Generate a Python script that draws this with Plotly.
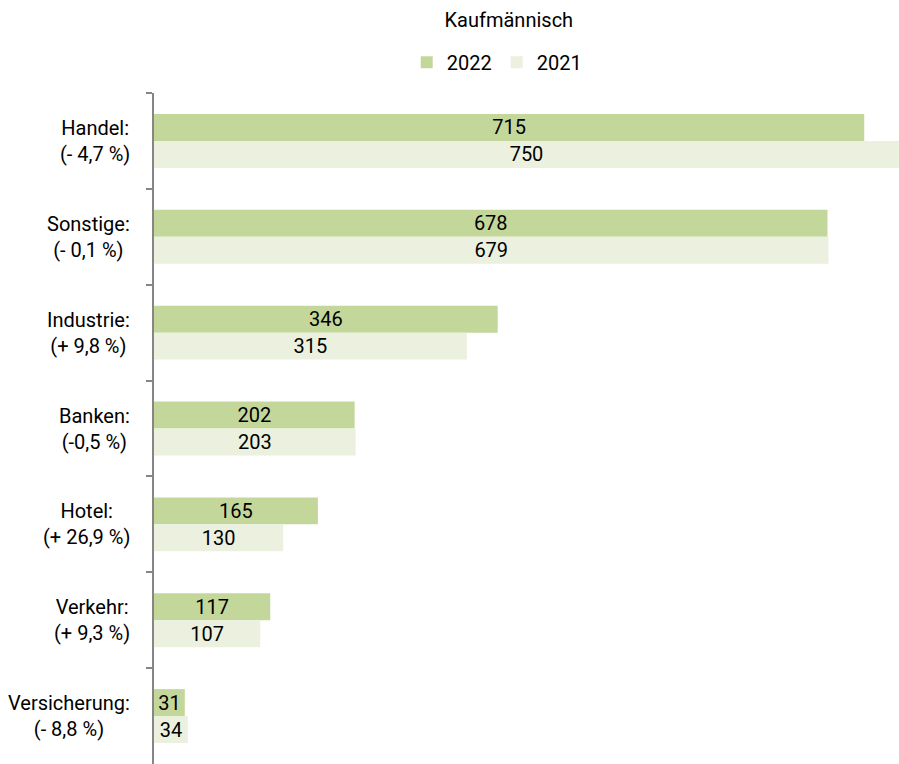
import plotly.graph_objects as go

categories = ["Handel", "Sonstige", "Industrie", "Banken", "Hotel", "Verkehr", "Versicherung"]
changes = ["(- 4,7 %)", "(- 0,1 %)", "(+ 9,8 %)", "(-0,5 %)", "(+ 26,9 %)", "(+ 9,3 %)", "(- 8,8 %)"]
values_2022 = [715, 678, 346, 202, 165, 117, 31]
values_2021 = [750, 679, 315, 203, 130, 107, 34]

FONT = "Roboto"
C2022 = "#c4d79b"
C2021 = "#ebf1de"

fig = go.Figure()
for name, vals, col in [("2022", values_2022, C2022), ("2021", values_2021, C2021)]:
    fig.add_trace(go.Bar(
        y=categories, x=vals, name=name, orientation="h",
        marker=dict(color=col, line=dict(width=0)),
        text=[str(v) for v in vals], textposition="inside", textangle=0,
        insidetextanchor="middle", constraintext="none",
        textfont=dict(family=FONT, size=20, color="#000000"),
        hoverinfo="x+y",
    ))

for cat, ch in zip(categories, changes):
    fig.add_annotation(
        x=0, xref="paper", y=cat, yref="y", xanchor="right", xshift=-22,
        text=f"{cat}:<br>{ch}", showarrow=False, align="center",
        font=dict(family=FONT, size=20, color="#000000"),
    )

fig.update_layout(
    width=899, height=764,
    margin=dict(l=154, r=0, t=93, b=0, autoexpand=False),
    paper_bgcolor="white", plot_bgcolor="white",
    barmode="group", bargap=0.4375, bargroupgap=0,
    title=dict(text="Kaufmännisch", x=0.566, xanchor="center", y=0.974, yanchor="middle",
               font=dict(family=FONT, size=20, color="#000000")),
    legend=dict(orientation="h", x=0.46, xanchor="center", y=1.046, yanchor="middle",
                font=dict(family=FONT, size=20, color="#000000"),
                itemwidth=30, traceorder="normal"),
    showlegend=True,
    xaxis=dict(range=[0, 750], visible=False, fixedrange=True),
    yaxis=dict(autorange="reversed", showticklabels=False, showline=True,
               linecolor="#868686", linewidth=1.5, ticks="outside", ticklen=6,
               tickcolor="#868686", tickwidth=1.5, tickson="boundaries",
               showgrid=False, zeroline=False, fixedrange=True),
)

fig.write_html(
    "out.html",
    config={"displayModeBar": False},
    post_script="document.body.style.margin='0';document.body.style.overflow='hidden';",
)
